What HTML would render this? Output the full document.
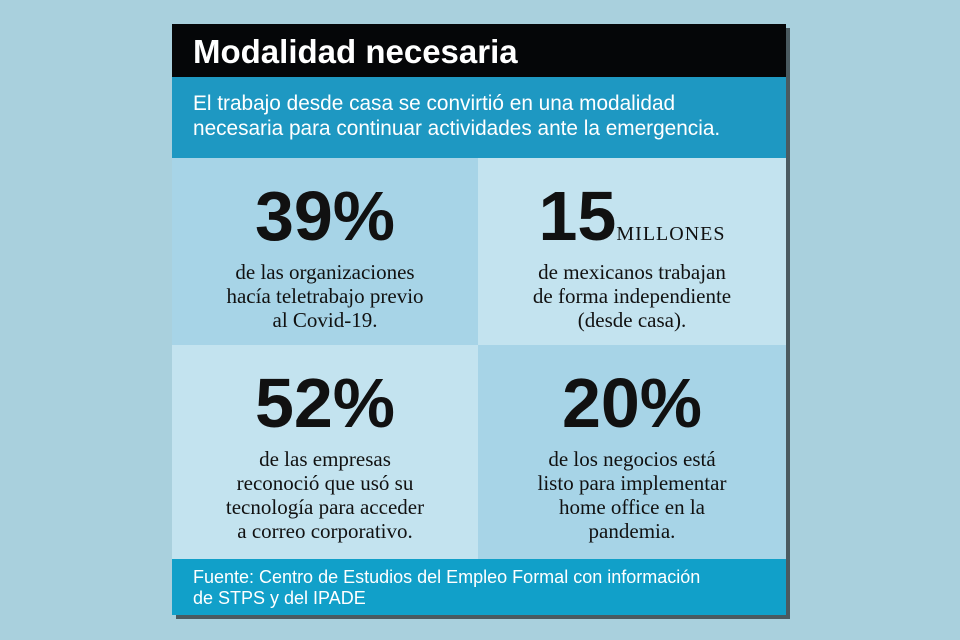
<!DOCTYPE html>
<html><head><meta charset="utf-8"><style>
body{margin:0;width:960px;height:640px;background:#a9d0dd;position:relative;overflow:hidden;font-family:"Liberation Sans",sans-serif}
.card{position:absolute;left:172px;top:24px;width:614px;height:591px;box-shadow:4px 4px 0 #4a5a60}
.hd{position:absolute;left:0;top:0;width:614px;height:53px;background:#050608;color:#fff;font-weight:bold;font-size:33px;line-height:56px;padding-left:21px;box-sizing:border-box}
.sub{position:absolute;left:0;top:53px;width:614px;height:81px;background:#1e98c2;color:#fff;font-size:20.8px;line-height:25px;padding:14px 0 0 21px;box-sizing:border-box;white-space:nowrap}
.c{position:absolute;text-align:center;color:#111}
.n{font-weight:bold;font-size:70px;height:72px;line-height:72px;letter-spacing:0;margin-top:22px;white-space:nowrap}
.t{font-family:"Liberation Serif",serif;font-size:21px;line-height:24px;margin-top:8px}
.ft{position:absolute;left:0;top:535px;width:614px;height:56px;background:#11a0c9;color:#fff;font-size:18px;line-height:21px;padding:8px 0 0 21px;box-sizing:border-box;white-space:nowrap}
</style></head><body>
<div class="card">
<div class="hd">Modalidad necesaria</div>
<div class="sub">El trabajo desde casa se convirtió en una modalidad<br>necesaria para continuar actividades ante la emergencia.</div>
<div class="c" style="left:0;top:134px;width:306px;height:187px;background:#a7d4e7"><div class="n">39%</div><div class="t">de las organizaciones<br>hacía teletrabajo previo<br>al Covid-19.</div></div>
<div class="c" style="left:306px;top:134px;width:308px;height:187px;background:#c3e3ef"><div class="n">15<span style="font-size:20px;line-height:20px;font-weight:normal;letter-spacing:1px;font-family:'Liberation Serif',serif">MILLONES</span></div><div class="t">de mexicanos trabajan<br>de forma independiente<br>(desde casa).</div></div>
<div class="c" style="left:0;top:321px;width:306px;height:214px;background:#c3e3ef"><div class="n">52%</div><div class="t">de las empresas<br>reconoció que usó su<br>tecnología para acceder<br>a correo corporativo.</div></div>
<div class="c" style="left:306px;top:321px;width:308px;height:214px;background:#a7d4e7"><div class="n">20%</div><div class="t">de los negocios está<br>listo para implementar<br>home office en la<br>pandemia.</div></div>
<div class="ft">Fuente: Centro de Estudios del Empleo Formal con información<br>de STPS y del IPADE</div>
</div>
</body></html>
